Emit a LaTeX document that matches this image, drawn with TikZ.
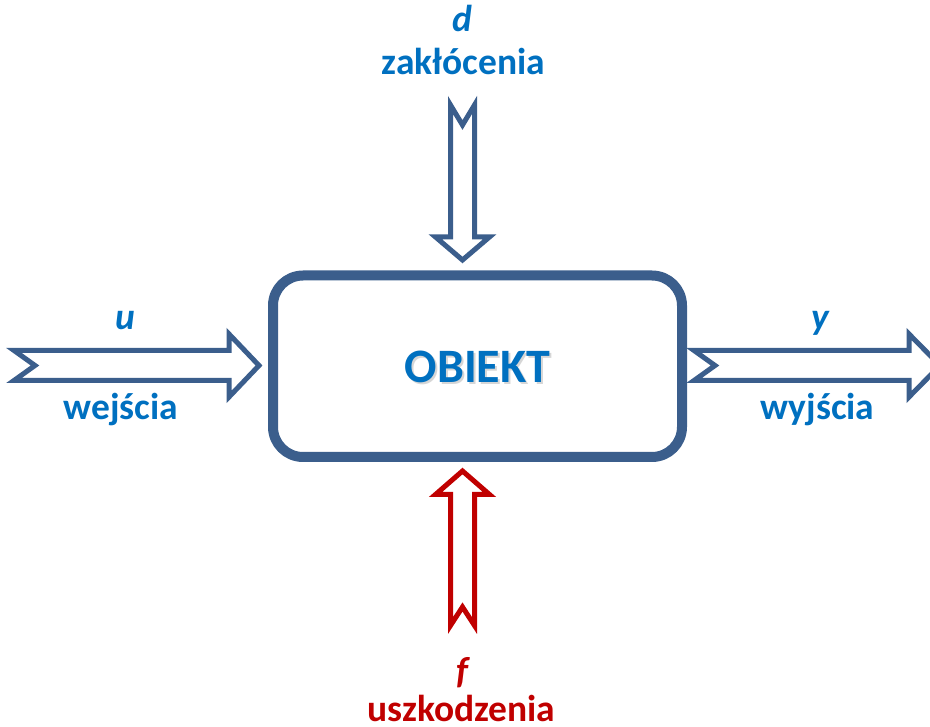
\documentclass[tikz,border=0pt]{standalone}
\usepackage{fontspec}
\setmainfont{Carlito}
\definecolor{framecol}{RGB}{59,94,140}
\definecolor{textblue}{RGB}{0,112,192}
\definecolor{faultred}{RGB}{192,0,0}
\begin{document}
\begin{tikzpicture}[x=1pt,y=-1pt,
  hollow/.style={draw=framecol,fill=white,line width=5pt,line join=miter},
  faulty/.style={draw=faultred,fill=white,line width=5pt,line join=miter},
  lbl/.style={anchor=base,inner sep=0pt,text=textblue,font=\fontsize{37.5}{40}\selectfont\bfseries},
  sym/.style={lbl,font=\fontsize{37.5}{40}\selectfont\bfseries\itshape},
  redlbl/.style={lbl,text=faultred},
  redsym/.style={sym,text=faultred}]
\useasboundingbox (0,0) rectangle (930,727);

% the plant block
\node[draw=framecol,line width=10pt,rounded corners=30pt,fill=white,
      minimum width=409pt,minimum height=181.5pt,inner sep=0pt] (obj) at (477.5,366.25) {};
\node[anchor=base,inner sep=0pt,text=black!35,opacity=0.45,
      font=\fontsize{48}{52}\selectfont\bfseries] (objshadow) at (479.5,385) {OBIEKT};
\node[anchor=base,inner sep=0pt,text=textblue,
      font=\fontsize{48}{52}\selectfont\bfseries] (objtxt) at (477.5,383) {OBIEKT};

% anchor points of the block arrows
\coordinate (uin) at (259,365.5);
\coordinate (yout) at (694,365.5);
\coordinate (din) at (462.5,260);
\coordinate (fin) at (462.5,471);

% input u
\draw[hollow] (14,350.5) -- (229,350.5) -- (229,334) -- (uin) -- (229,397)
  -- (229,380.5) -- (14,380.5) -- (35,365.5) -- cycle;
% output y
\draw[hollow] (yout) ++(0,-15) -- (909,350.5) -- (909,334) -- (940,365.5) -- (909,397)
  -- (909,380.5) -- (694,380.5) -- (715,365.5) -- cycle;
% disturbance d
\draw[hollow] (450.5,105) -- (462.5,125) -- (474.5,105) -- (474.5,237) -- (489.5,237)
  -- (din) -- (435.5,237) -- (450.5,237) -- cycle;
% fault f
\draw[faulty] (fin) -- (489.5,494.5) -- (474.5,494.5) -- (474.5,625.5) -- (462.5,607)
  -- (450.5,625.5) -- (450.5,494.5) -- (435.5,494.5) -- cycle;

% labels
\node[sym] (dsym) at (462,32) {d};
\node[lbl] (dtxt) at (463.5,75) {zakłócenia};
\node[sym] (usym) at (125,330) {u};
\node[lbl] (utxt) at (121,420) {wejścia};
\node[sym] (ysym) at (820,330) {y};
\node[lbl] (ytxt) at (817.5,420) {wyjścia};
\node[redsym] (fsym) at (462,683) {f};
\node[redlbl] (ftxt) at (461.5,721) {uszkodzenia};
\end{tikzpicture}
\end{document}
